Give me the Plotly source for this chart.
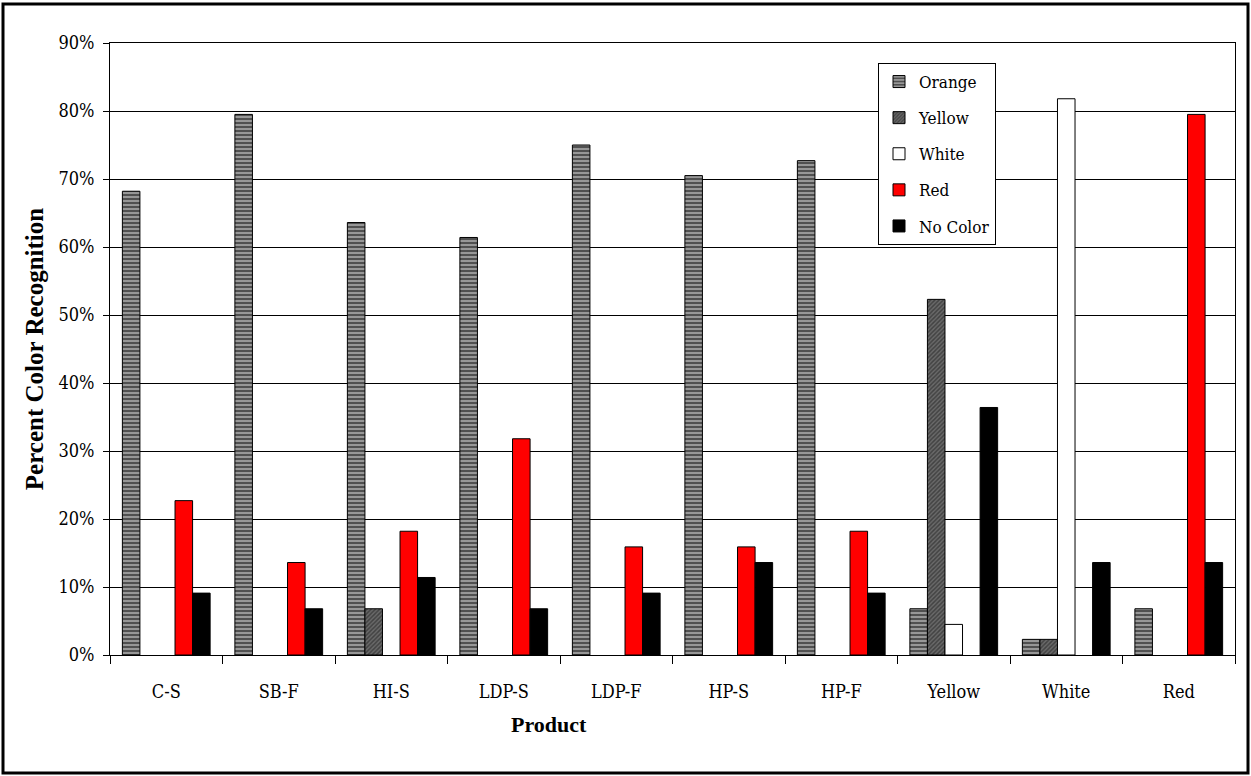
import plotly.graph_objects as go

# Share of respondents naming each colour, per product
products = ["C-S", "SB-F", "HI-S", "LDP-S", "LDP-F", "HP-S", "HP-F", "Yellow", "White", "Red"]
orange = [0.682, 0.795, 0.636, 0.614, 0.750, 0.705, 0.727, 0.068, 0.023, 0.068]
yellow = [None, None, 0.068, None, None, None, None, 0.523, 0.023, None]
white = [None, None, None, None, None, None, None, 0.045, 0.818, None]
red = [0.227, 0.136, 0.182, 0.318, 0.159, 0.159, 0.182, None, None, 0.795]
no_color = [0.091, 0.068, 0.114, 0.068, 0.091, 0.136, 0.091, 0.364, 0.136, 0.136]

FONT = "DejaVu Serif Condensed, Liberation Serif, serif"
BOLD_FONT = "Liberation Serif, serif"

series = [
    ("Orange", orange, dict(color="#505050",
                            pattern=dict(shape="-", fgcolor="#eeeeee", bgcolor="#505050",
                                         size=4, solidity=0.45))),
    ("Yellow", yellow, dict(color="#6a6a6a",
                            pattern=dict(shape="/", fgcolor="#1a1a1a", bgcolor="#6a6a6a",
                                         size=3, solidity=0.5))),
    ("White", white, dict(color="#ffffff")),
    ("Red", red, dict(color="#ff0000")),
    ("No Color", no_color, dict(color="#000000")),
]

fig = go.Figure()
for name, vals, mk in series:
    mk = dict(mk)
    mk["line"] = dict(color="#000000", width=1)
    fig.add_trace(go.Bar(name=name, x=products, y=vals, marker=mk,
                         legendgroup=name, hoverinfo="skip"))

W, H = 1251, 776
L, R, T, B = 110, 16, 43, 121
pw, ph = W - L - R, H - T - B


def px_x(p):
    return (p - L) / pw


def px_y(p):
    return (H - B - p) / ph


fig.update_layout(
    width=W, height=H,
    margin=dict(l=L, r=R, t=T, b=B),
    paper_bgcolor="white", plot_bgcolor="white",
    barmode="group", bargap=0.22, bargroupgap=0,
    font=dict(family=FONT, size=18, color="black"),
    showlegend=True,
    legend=dict(
        x=px_x(878), y=px_y(63), xanchor="left", yanchor="top",
        bgcolor="white", bordercolor="black", borderwidth=1,
        font=dict(family=FONT, size=17, color="black"),
        tracegroupgap=11, itemclick=False, itemwidth=30,
    ),
    xaxis=dict(
        type="category", tickson="boundaries", ticks="outside", ticklen=8,
        tickcolor="black", showline=True, linecolor="black", linewidth=1,
        mirror=True, showgrid=False, ticklabelstandoff=20,
        tickfont=dict(family=FONT, size=18, color="black"),
    ),
    yaxis=dict(
        range=[0, 0.9], dtick=0.1, tickformat=".0%", ticks="outside", ticklen=6,
        tickcolor="black", showline=True, linecolor="black", linewidth=1,
        mirror=True, showgrid=True, gridcolor="black", gridwidth=1,
        zeroline=False, ticklabelstandoff=5,
        tickfont=dict(family=FONT, size=18, color="black"),
        title=dict(text="<b>Percent Color Recognition</b>", standoff=7,
                   font=dict(family=BOLD_FONT, size=25, color="black")),
    ),
    annotations=[dict(
        text="<b>Product</b>", xref="paper", yref="paper",
        x=px_x(549), y=px_y(724), xanchor="center", yanchor="middle",
        showarrow=False, font=dict(family=BOLD_FONT, size=22, color="black"),
    )],
    shapes=[dict(
        type="rect", xref="paper", yref="paper",
        x0=px_x(3), x1=px_x(1248), y0=px_y(773), y1=px_y(4),
        line=dict(color="black", width=3), fillcolor="rgba(0,0,0,0)",
        layer="below",
    )],
)

fig.write_html("out.html")
